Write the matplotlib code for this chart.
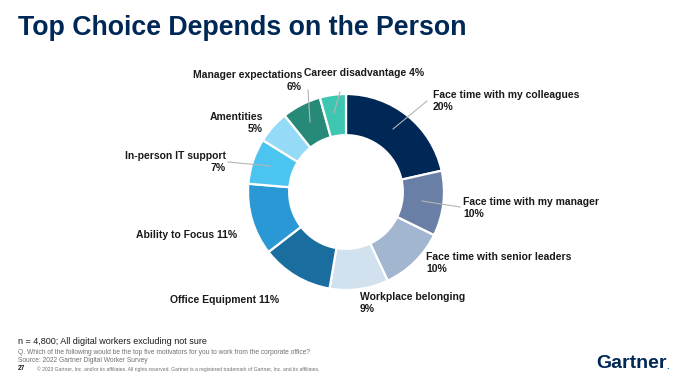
import matplotlib
matplotlib.use("Agg")
import matplotlib.pyplot as plt
from matplotlib.lines import Line2D

# ---- data ----
categories = ["Face time with my colleagues", "Face time with my manager",
              "Face time with senior leaders", "Workplace belonging",
              "Office Equipment", "Ability to Focus", "In-person IT support",
              "Amentities", "Manager expectations", "Career disadvantage"]
values = [20, 10, 10, 9, 11, 11, 7, 5, 6, 4]
colors = ["#002856", "#6a7fa5", "#a3b6cf", "#d2e1ee", "#1a6e9f",
          "#2a98d5", "#4cc4f0", "#95dbf7", "#278a78", "#3fc6b1"]

W, H = 691, 386
fig = plt.figure(figsize=(W / 100, H / 100), dpi=100)
fig.patch.set_facecolor("white")

def fx(x):
    return x / W

def fy(y):
    return 1 - y / H

# donut
cx, cy, r = 346, 192, 98
ax = fig.add_axes([fx(cx - r), fy(cy + r), 2 * r / W, 2 * r / H])
ax.pie(values, colors=colors, startangle=90, counterclock=False,
       wedgeprops=dict(width=0.42, edgecolor="white", linewidth=1.6))
ax.set_xlim(-1, 1)
ax.set_ylim(-1, 1)
ax.set_aspect("equal")
ax.axis("off")

# labels: (x, y_line1, ha, one_line)
layout = [
    (433, 95, "left", False),
    (463, 202, "left", False),
    (426, 257, "left", False),
    (360, 297, "left", False),
    (170, 300, "left", True),
    (136, 235, "left", True),
    (226, 156, "right", False),
    (263, 117, "right", False),
    (302, 75, "right", False),
    (304, 73, "left", True),
]
fs = 7.5
for cat, v, (x, y, ha, one) in zip(categories, values, layout):
    if one:
        fig.text(fx(x), fy(y), f"{cat} {v}%", ha=ha, va="center",
                 fontsize=fs, fontweight="bold", color="#1a1a1a",
                 family="Liberation Sans")
    else:
        fig.text(fx(x), fy(y), cat, ha=ha, va="center", fontsize=fs,
                 fontweight="bold", color="#1a1a1a", family="Liberation Sans")
        fig.text(fx(x), fy(y + 12), f"{v}%", ha=ha, va="center", fontsize=fs,
                 fontweight="bold", color="#1a1a1a", family="Liberation Sans")

# leader lines
leaders = [((393, 129), (427, 101)), ((422, 201), (460, 207)),
           ((228, 162), (270, 166)), ((308, 90), (310, 122)),
           ((340, 92), (334, 113))]
for (x1, y1), (x2, y2) in leaders:
    fig.add_artist(Line2D([fx(x1), fx(x2)], [fy(y1), fy(y2)],
                          transform=fig.transFigure, color="#b5b5b5", lw=0.8))

# title
fig.text(fx(18), fy(28), "Top Choice Depends on the Person", ha="left",
         va="center", fontsize=19.3, fontweight="bold", color="#002856",
         family="Liberation Sans")

# footnotes
fig.text(fx(18), fy(342), "n = 4,800; All digital workers excluding not sure",
         ha="left", va="center", fontsize=6.5, color="#1a1a1a",
         family="Liberation Sans")
fig.text(fx(18), fy(352),
         "Q. Which of the following would be the top five motivators for you to work from the corporate office?",
         ha="left", va="center", fontsize=4.8, color="#707070",
         family="Liberation Sans")
fig.text(fx(18), fy(360), "Source: 2022 Gartner Digital Worker Survey",
         ha="left", va="center", fontsize=4.8, color="#707070",
         family="Liberation Sans")
fig.text(fx(18), fy(369), "27", ha="left", va="center", fontsize=4.8,
         color="#1a1a1a", family="Liberation Sans", fontweight="bold")
fig.text(fx(37), fy(369),
         "\u00a9 2023 Gartner, Inc. and/or its affiliates. All rights reserved. Gartner is a registered trademark of Gartner, Inc. and its affiliates.",
         ha="left", va="center", fontsize=3.65, color="#707070",
         family="Liberation Sans")

# logo
fig.text(fx(596), fy(364), "Gartner", ha="left", va="center", fontsize=14,
         color="#002856", family="Liberation Sans", fontweight="bold")
fig.text(fx(666), fy(369), ".", ha="left", va="baseline", fontsize=7,
         color="#1a73c2", family="Liberation Sans", fontweight="bold")

fig.savefig("out.png", dpi=100)
